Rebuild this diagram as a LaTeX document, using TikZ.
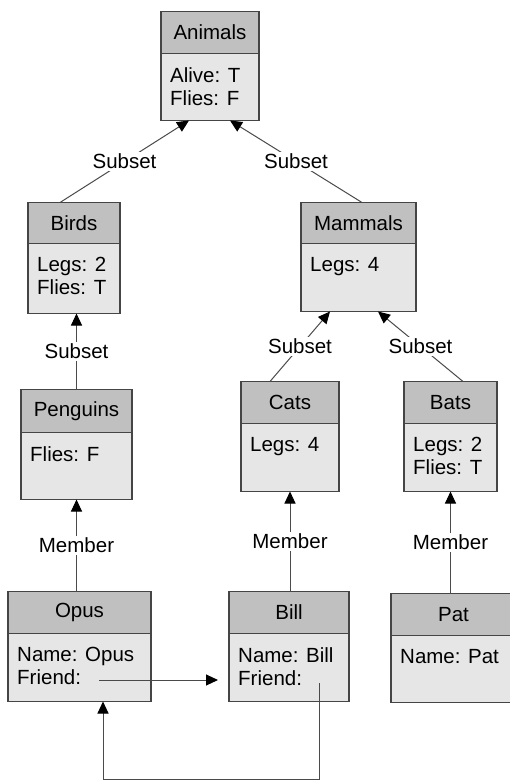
\documentclass[tikz,border=0pt]{standalone}
\usepackage{fontspec}
\setmainfont{Liberation Sans}
\usetikzlibrary{arrows.meta,calc}
\definecolor{hdrgray}{HTML}{C0C0C0}
\definecolor{bodygray}{HTML}{E6E6E6}
\definecolor{edgegray}{HTML}{454545}
\definecolor{linegray}{HTML}{4A4A4A}
\tikzset{
  classfont/.style={font=\fontsize{20.5}{23}\selectfont},
  hdr/.style={draw=edgegray, fill=hdrgray, line width=1.3pt, inner sep=0pt, outer sep=0pt, classfont},
  bodybox/.style={draw=edgegray, fill=bodygray, line width=1.3pt, inner sep=0pt, outer sep=0pt},
  bodytext/.style={inner sep=0pt, align=left, anchor=north west, classfont},
  rel/.style={draw=linegray, line width=1pt, -{Triangle[length=12pt,width=11pt,color=black]}},
  lbl/.style={fill=white, inner sep=1.5pt, classfont}
}
% \umlclass{name}{left}{top}{right}{header bottom}{bottom}{title}{attributes}
\newcommand\umlclass[8]{%
  \node[hdr, minimum width={(#4-#2)*1pt}, minimum height={(#5-#3)*1pt}] (#1)
    at ({(#2+#4)/2},{(#3+#5)/2+0.5}) {#7};
  \node[bodybox, minimum width={(#4-#2)*1pt}, minimum height={(#6-#5)*1pt}, anchor=north]
    (#1-b) at (#1.south) {};
  \node[bodytext] (#1-t) at ([xshift=9pt, yshift=-13.5pt]#1-b.north west) {#8};
}
\begin{document}
\begin{tikzpicture}[x=1pt, y=-1pt]
  \useasboundingbox (0,0) rectangle (510,781);

  % classes
  \umlclass{animals}{161}{11}{259}{53}{120}{Animals}{Alive: T\\Flies: F}
  \umlclass{birds}{28}{202}{120}{243}{313}{Birds}{Legs: 2\\Flies: T}
  \umlclass{mammals}{301}{202}{416}{243}{311}{Mammals}{Legs: 4}
  \umlclass{penguins}{21}{389}{132}{432}{499}{Penguins}{Flies: F}
  \umlclass{cats}{241}{381}{339}{423}{491}{Cats}{Legs: 4}
  \umlclass{bats}{404}{381}{497}{423}{491}{Bats}{Legs: 2\\Flies: T}

  % instances
  \umlclass{opus}{8}{591}{151}{633}{701}{Opus}{Name: Opus\\Friend:}
  \umlclass{bill}{229}{591}{349}{633}{701}{Bill}{Name: Bill\\Friend:}
  \umlclass{pat}{391}{593}{516}{635}{702}{Pat}{Name: Pat}

  % subset relations
  \draw[rel] ([xshift=-14pt]birds.north) -- ([xshift=-21pt]animals-b.south)
    node[lbl, midway] {Subset};
  \draw[rel] ([xshift=3.5pt]mammals.north) -- ([xshift=20pt]animals-b.south)
    node[lbl, midway] {Subset};
  \draw[rel] (penguins.north) -- (penguins.north |- birds-b.south)
    node[lbl, midway] {Subset};
  \draw[rel] ([xshift=-20pt]cats.north) -- ([xshift=-28.5pt]mammals-b.south)
    node[lbl, midway] {Subset};
  \draw[rel] ([xshift=12.5pt]bats.north) -- ([xshift=19.5pt]mammals-b.south)
    node[lbl, midway] {Subset};

  % membership relations
  \draw[rel] (penguins-b.south |- opus.north) -- (penguins-b.south)
    node[lbl, midway] {Member};
  \draw[rel] (cats-b.south |- bill.north) -- (cats-b.south)
    node[lbl, midway] {Member};
  \draw[rel] (bats-b.south |- pat.north) -- (bats-b.south)
    node[lbl, midway] {Member};

  % friend references
  \coordinate (opusfriend) at (99,680);
  \coordinate (billfriend) at (319,683);
  \coordinate (loopbottom) at (0,779);
  \draw[rel] (opusfriend) -- ($(opusfriend -| bill-b.west)+(-11,0)$);
  \draw[rel] (billfriend) -- (billfriend |- loopbottom)
    -| ([xshift=23.5pt]opus-b.south);
\end{tikzpicture}
\end{document}
